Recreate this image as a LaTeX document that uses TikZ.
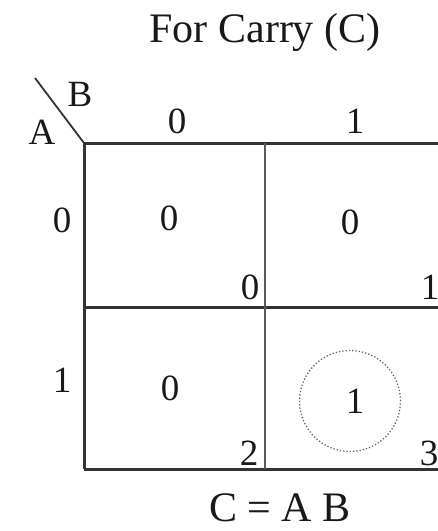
\documentclass[tikz,border=0pt]{standalone}
\usepackage{fontspec}
\setmainfont{Liberation Serif}
\begin{document}
\begin{tikzpicture}[x=1pt,y=-1pt,
  txt/.style={inner sep=0pt,font=\fontsize{37}{40}\selectfont,text=black!90},
  big/.style={inner sep=0pt,font=\fontsize{42}{45}\selectfont,text=black!90},
  gridline/.style={line width=3pt,draw=black!80},
  midline/.style={line width=2.3pt,draw=black!65},
  ring/.style={draw=black!60,dotted,line width=1.3pt}]
\useasboundingbox[fill=white] (0,0) rectangle (438,531);
% grid
\coordinate (tl) at (84,143);
\coordinate (tr) at (438,143);
\coordinate (ml) at (84,307);
\coordinate (mr) at (438,307);
\coordinate (bl) at (84,469);
\coordinate (br) at (438,469);
\coordinate (tm) at (265,143);
\coordinate (bm) at (265,469);
\coordinate (dg) at (35,78);
\draw[gridline] (tl) -- (tr);
\draw[gridline] (ml) -- (mr);
\draw[gridline] (bl) -- (br);
\draw[gridline] (tl) -- (bl);
\draw[midline] (tm) -- (bm);
\draw[line width=1.8pt,draw=black!80] (dg) -- (tl);
% title
\node[big] (title) at (265,32) {For Carry (C)};
\node[big] (eq) at (280,508) {C = A B};
% variable labels
\node[txt] (labB) at (80,94) {B};
\node[txt] (labA) at (42,132) {A};
\node[txt] (c0) at (177,121) {0};
\node[txt] (c1) at (355,121) {1};
\node[txt] (r0) at (62,220) {0};
\node[txt] (r1) at (62,380) {1};
% cell values
\node[txt] (v0) at (169,218) {0};
\node[txt] (v1) at (350,222) {0};
\node[txt] (v2) at (170,388) {0};
\node[txt] (v3) at (355,401) {1};
\node[ring,circle,minimum size=101pt] (grp) at (350,401) {};
% cell indices
\node[txt] (i0) at (250,287) {0};
\node[txt] (i1) at (430,287) {1};
\node[txt] (i2) at (249,453) {2};
\node[txt] (i3) at (429,453) {3};
\end{tikzpicture}
\end{document}
